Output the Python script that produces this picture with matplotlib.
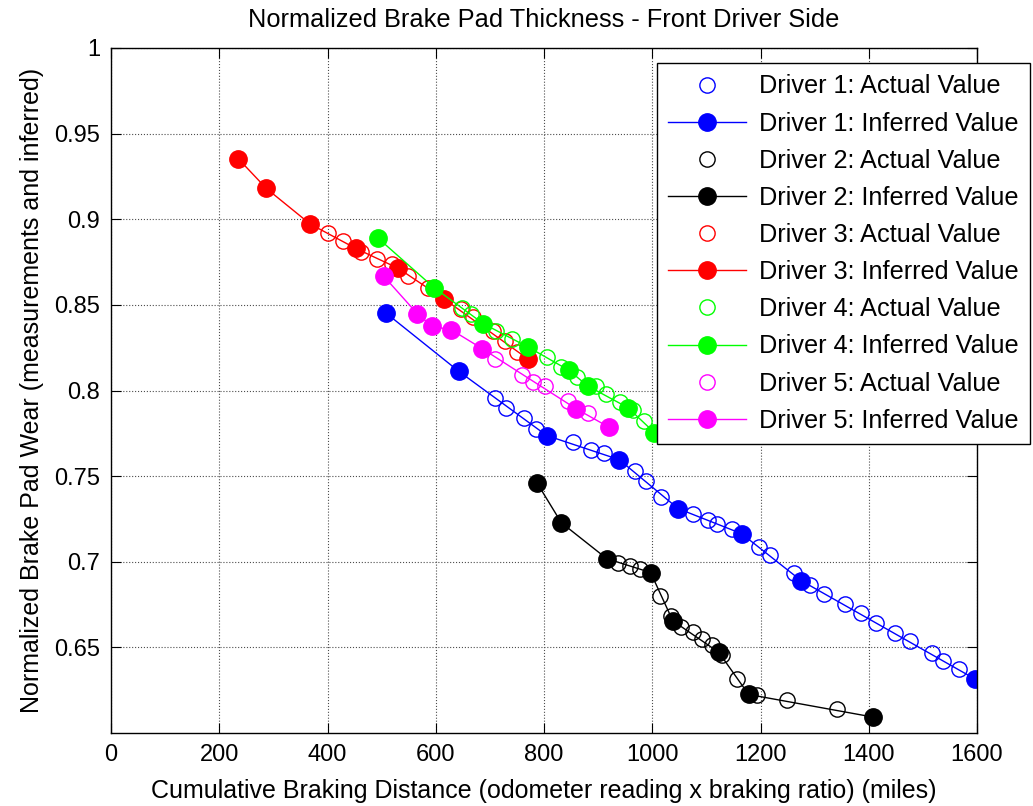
import numpy as np
import matplotlib
matplotlib.use('Agg')
import matplotlib.pyplot as plt

plt.rcParams['font.family'] = ['Liberation Sans', 'DejaVu Sans']

# Driver 1 (blue)
d1_act_x = [709, 730, 763, 786, 853, 886, 910, 968, 988, 1017, 1075, 1103, 1119, 1148,
            1197, 1218, 1261, 1292, 1318, 1356, 1385, 1414, 1448, 1477, 1516, 1537, 1566]
d1_act_y = [0.7955, 0.790, 0.7838, 0.7774, 0.7697, 0.7655, 0.7635, 0.753, 0.747, 0.7378,
            0.7277, 0.7243, 0.7218, 0.7189, 0.7088, 0.704, 0.6933, 0.6867, 0.6813, 0.6755,
            0.670, 0.664, 0.6585, 0.6537, 0.6469, 0.642, 0.6374]
d1_inf_x = [509, 643, 805, 939, 1048, 1165, 1275, 1597]
d1_inf_y = [0.845, 0.8111, 0.7737, 0.7596, 0.731, 0.7164, 0.689, 0.6314]

# Driver 2 (black)
d2_act_x = [937, 958, 977, 1014, 1034, 1054, 1076, 1091, 1110, 1128, 1156, 1194, 1249, 1341]
d2_act_y = [0.6995, 0.6976, 0.6957, 0.6801, 0.6685, 0.6617, 0.6588, 0.655, 0.6511, 0.6453,
            0.6317, 0.622, 0.619, 0.6142]
d2_inf_x = [787, 832, 916, 997, 1038, 1123, 1178, 1408]
d2_inf_y = [0.7461, 0.7228, 0.7018, 0.6937, 0.6655, 0.6471, 0.6225, 0.6093]

# Driver 3 (red)
d3_act_x = [400, 429, 461, 492, 520, 548, 585, 646, 668, 705, 728, 750]
d3_act_y = [0.8917, 0.8875, 0.8807, 0.8768, 0.874, 0.867, 0.860, 0.8477, 0.8428, 0.835,
            0.829, 0.8223]
d3_inf_x = [235, 287, 368, 452, 531, 615, 770]
d3_inf_y = [0.9354, 0.918, 0.8972, 0.883, 0.8713, 0.8535, 0.8185]

# Driver 4 (green)
d4_act_x = [648, 665, 712, 740, 805, 832, 861, 896, 914, 941, 964, 985]
d4_act_y = [0.848, 0.8448, 0.835, 0.830, 0.8195, 0.814, 0.8078, 0.8025, 0.798, 0.7935,
            0.7886, 0.782]
d4_inf_x = [494, 597, 688, 771, 846, 881, 955, 1004]
d4_inf_y = [0.8888, 0.860, 0.839, 0.8253, 0.8118, 0.8026, 0.790, 0.7754]

# Driver 5 (magenta)
d5_act_x = [710, 760, 780, 802, 845, 882]
d5_act_y = [0.8185, 0.8089, 0.805, 0.8025, 0.7937, 0.787]
d5_inf_x = [504, 566, 593, 629, 686, 859, 921]
d5_inf_y = [0.8667, 0.8448, 0.8375, 0.8354, 0.8244, 0.7894, 0.7784]

drivers = [
    (d1_act_x, d1_act_y, d1_inf_x, d1_inf_y, '#0000ff'),
    (d2_act_x, d2_act_y, d2_inf_x, d2_inf_y, '#000000'),
    (d3_act_x, d3_act_y, d3_inf_x, d3_inf_y, '#ff0000'),
    (d4_act_x, d4_act_y, d4_inf_x, d4_inf_y, '#00ff00'),
    (d5_act_x, d5_act_y, d5_inf_x, d5_inf_y, '#ff00ff'),
]

fig = plt.figure(figsize=(10.33, 8.06), dpi=100)
ax = fig.add_axes([111 / 1033, 1 - 733 / 806, 866 / 1033, 685 / 806])

for i, (ax_x, ax_y, ix, iy, c) in enumerate(drivers):
    n = i + 1
    ax.plot(ax_x, ax_y, linestyle='none', marker='o', ms=11, mfc='none', mec=c, mew=1.0,
            label='Driver %d: Actual Value' % n)
    ax.plot(ix, iy, '-', color=c, lw=1.0, marker='o', ms=12.5, mfc=c, mec=c,
            label='Driver %d: Inferred Value' % n)

ax.set_xlim(0, 1600)
ax.set_ylim(0.6, 1.0)
ax.set_xticks(np.arange(0, 1601, 200))
yt = [0.65, 0.7, 0.75, 0.8, 0.85, 0.9, 0.95, 1.0]
ax.set_yticks(yt)
ax.set_yticklabels(['0.65', '0.7', '0.75', '0.8', '0.85', '0.9', '0.95', '1'])
ax.grid(True, linestyle=':', color='0.3', lw=0.8)
ax.tick_params(direction='in', top=True, right=True, length=7, width=0.8,
               labelsize=17, pad=8)
for s in ax.spines.values():
    s.set_linewidth(1.0)

ax.set_title('Normalized Brake Pad Thickness - Front Driver Side', fontsize=18.3, pad=15)
ax.set_xlabel('Cumulative Braking Distance (odometer reading x braking ratio) (miles)',
              fontsize=18, labelpad=9)
ax.set_ylabel('Normalized Brake Pad Wear (measurements and inferred)', fontsize=18,
              labelpad=7)

leg = ax.legend(loc='upper right', bbox_to_anchor=(1030 / 1033, 1 - 63 / 806),
                bbox_transform=fig.transFigure, borderaxespad=0, fontsize=18.2,
                fancybox=False, framealpha=1, edgecolor='k', handlelength=3.1,
                handletextpad=0.5, labelspacing=0.52, borderpad=0.45)
leg.get_frame().set_linewidth(1.0)

fig.savefig('out.png', dpi=100)
